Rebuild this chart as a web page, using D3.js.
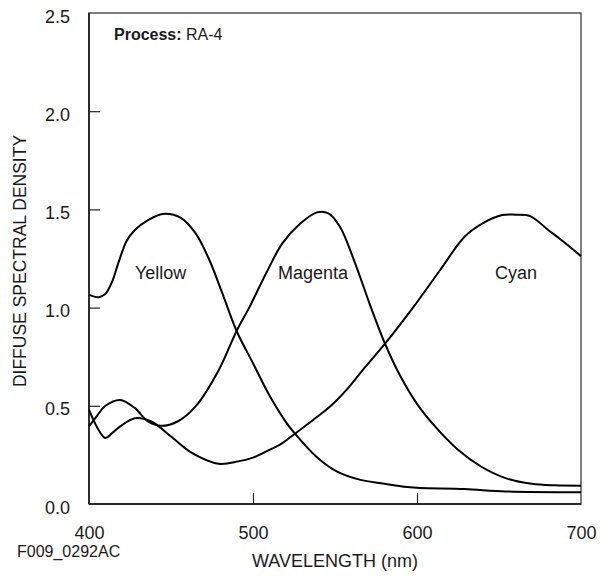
<!DOCTYPE html>
<html><head><meta charset="utf-8">
<script src="https://cdn.jsdelivr.net/npm/d3@7"></script>
<style>
html,body{margin:0;padding:0;background:#fff;}
text{font-family:"Liberation Sans",Arial,Helvetica,sans-serif;fill:#1a1a1a;}
</style></head>
<body>
<svg id="chart" width="613" height="576"></svg>
<script>
// ---- data ----
const yellowWl = [400,406,410,414,418,423,428,436,445,456,465,473,481,490,500,510.4,520.5,525.6,539,551,565,580,594,602,629,654,700];
const yellowD  = [1.065,1.053,1.07,1.13,1.23,1.34,1.395,1.445,1.477,1.457,1.378,1.25,1.08,0.881,0.717,0.547,0.412,0.358,0.238,0.166,0.124,0.103,0.086,0.081,0.076,0.064,0.06];

const magentaWl = [400,405,410,419,428,436,444,454,465,479,490,498,508,518,529,539,546,553,563,571,580.5,590,600,611,625,639,654,670,684,700];
const magentaD  = [0.395,0.45,0.5,0.53,0.488,0.42,0.398,0.42,0.497,0.68,0.881,1.005,1.175,1.328,1.429,1.485,1.48,1.412,1.209,1.022,0.816,0.649,0.51,0.395,0.276,0.191,0.132,0.103,0.095,0.093];

const cyanWl = [400,405,410,414,419,428,438,450,463,479,491,500,510,516.5,525.6,536.8,547,557,567,580.5,598,614,629,640,652,660,669,680,688,700];
const cyanD  = [0.48,0.39,0.336,0.36,0.395,0.437,0.42,0.344,0.259,0.205,0.217,0.236,0.276,0.302,0.358,0.429,0.496,0.581,0.683,0.816,1.005,1.19,1.361,1.429,1.471,1.473,1.466,1.395,1.344,1.262];

const xTicks = [400,500,600,700];
const yTicks = [0,0.5,1.0,1.5,2.0,2.5];
const seriesNames = ["Yellow","Magenta","Cyan"];

// ---- layout ----
const svg = d3.select("#chart");
const L = 89, R = 581, T = 13, B = 504;
const x = d3.scaleLinear().domain([400,700]).range([L,R]);
const y = d3.scaleLinear().domain([0,2.5]).range([B,T]);

// frame (top/right grey)
svg.append("rect").attr("x",L).attr("y",T).attr("width",R-L).attr("height",B-T)
  .attr("fill","none").attr("stroke","#555").attr("stroke-width",1.5);

// y axis
const yAxis = svg.append("g").attr("transform",`translate(${L},0)`)
  .call(d3.axisLeft(y).tickValues(yTicks).tickFormat(d3.format(".1f")).tickSize(-11).tickPadding(19));
yAxis.select(".domain").remove();
yAxis.selectAll(".tick line").attr("stroke","#222").attr("stroke-width",1.2)
  .attr("display",d=>(d===0||d===2.5)?"none":null);
yAxis.selectAll(".tick text").attr("font-size",18).attr("fill","#1a1a1a")
  .attr("font-family","Liberation Sans, Arial, sans-serif").attr("dy","0.5em");

// x axis
const xAxis = svg.append("g").attr("transform",`translate(0,${B})`)
  .call(d3.axisBottom(x).tickValues(xTicks).tickFormat(d3.format("d")).tickSize(-11).tickPadding(22));
xAxis.select(".domain").remove();
xAxis.selectAll(".tick line").attr("stroke","#222").attr("stroke-width",1.2)
  .attr("display",d=>(d===400||d===700)?"none":null);
xAxis.selectAll(".tick text").attr("font-size",18).attr("fill","#1a1a1a")
  .attr("font-family","Liberation Sans, Arial, sans-serif");

// left & bottom axis lines (black)
svg.append("line").attr("x1",L).attr("x2",L).attr("y1",T).attr("y2",B).attr("stroke","#111").attr("stroke-width",1.5);
svg.append("line").attr("x1",L).attr("x2",R).attr("y1",B).attr("y2",B).attr("stroke","#111").attr("stroke-width",1.5);

// curves
const line = d3.line().x(d=>x(d[0])).y(d=>y(d[1])).curve(d3.curveCatmullRom.alpha(0.5));
const series = [
  d3.zip(yellowWl,yellowD),
  d3.zip(magentaWl,magentaD),
  d3.zip(cyanWl,cyanD)
];
svg.append("g").selectAll("path").data(series).join("path")
  .attr("d",line).attr("fill","none").attr("stroke","#000").attr("stroke-width",2);

// curve labels
const lab = svg.append("g").attr("font-size",18);
lab.append("text").attr("x",135).attr("y",279).text(seriesNames[0]);
lab.append("text").attr("x",278).attr("y",279).text(seriesNames[1]);
lab.append("text").attr("x",495).attr("y",279).text(seriesNames[2]);

// process label
const p = svg.append("text").attr("x",114).attr("y",40).attr("font-size",16);
p.append("tspan").attr("font-weight","bold").text("Process:");
p.append("tspan").text(" RA-4");

// axis titles
svg.append("text").attr("x",335).attr("y",567).attr("text-anchor","middle").attr("font-size",18).text("WAVELENGTH (nm)");
svg.append("text").attr("transform","translate(26,261) rotate(-90)").attr("text-anchor","middle").attr("font-size",17.5).text("DIFFUSE SPECTRAL DENSITY");
svg.append("text").attr("x",17).attr("y",557).attr("font-size",16).text("F009_0292AC");
</script>
</body></html>
